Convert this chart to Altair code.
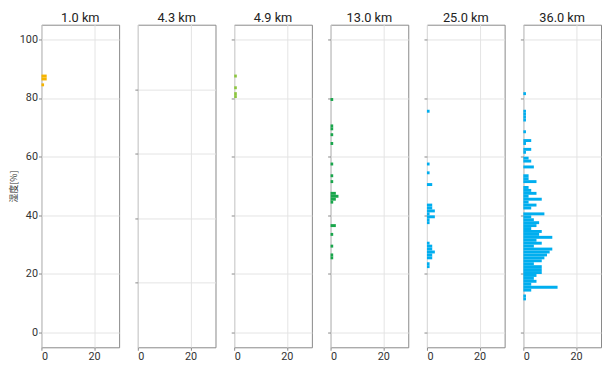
import altair as alt
import pandas as pd

dists = ["1.0 km", "4.3 km", "4.9 km", "13.0 km", "25.0 km", "36.0 km"]
colors = ["#F5B400", "#8CC63E", "#8CC63E", "#19A64B", "#00AEEF", "#00AEEF"]

# humidity bin (lower edge, %) and count, per distance
h_1 = [87, 86, 84]
c_1 = [2, 2, 1]
h_2 = []
c_2 = []
h_3 = [87, 83, 81, 80]
c_3 = [1, 1, 1, 1]
h_4 = [79, 70, 69, 67, 64, 57, 53, 51, 47, 46, 45, 44, 36, 33, 29, 26, 25]
c_4 = [1, 1, 1, 1, 1, 1, 1, 1, 2, 3, 2, 1, 2, 1, 1, 1, 1]
h_5 = [75, 57, 54, 50, 43, 42, 41, 40, 39, 38, 37, 30, 29, 28, 27, 26, 25, 23, 22]
c_5 = [1, 1, 1, 2, 2, 2, 3, 1, 3, 1, 1, 1, 2, 2, 3, 2, 2, 1, 1]
h_6 = [81, 75, 74, 73, 72, 68, 65, 64, 62, 61, 59, 58, 56, 53, 52, 51, 49, 48, 47,
       46, 45, 44, 43, 42, 40, 39, 38, 37, 36, 35, 34, 33, 32, 31, 30, 29, 28, 27,
       26, 25, 24, 23, 22, 21, 20, 19, 18, 17, 16, 15, 14, 12, 11]
c_6 = [1, 1, 1, 1, 1, 1, 3, 1, 3, 1, 2, 3, 4, 2, 2, 5, 2, 3, 5,
       2, 7, 2, 5, 3, 8, 3, 4, 6, 5, 3, 7, 6, 11, 5, 7, 4, 11, 10,
       9, 8, 7, 4, 7, 7, 7, 5, 4, 5, 3, 13, 3, 1, 1]

series = [h_1, h_2, h_3, h_4, h_5, h_6]
counts = [c_1, c_2, c_3, c_4, c_5, c_6]

rows = []
for d, hs, cs in zip(dists, series, counts):
    for h, c in zip(hs, cs):
        rows.append({"dist": d, "h": h, "h2": h + 1, "count": c})
df = pd.DataFrame(rows)

panels = []
for i, (d, col) in enumerate(zip(dists, colors)):
    first = i == 0
    if d == "4.3 km":
        ydom = [0, 1]
        yvals = [0.2, 0.4, 0.6, 0.8]
    else:
        ydom = [-5, 105]
        yvals = [0, 20, 40, 60, 80, 100]
    yaxis = alt.Axis(values=yvals, labels=first, title="湿度[%]" if first else "",
                     titleFont="Noto Sans CJK JP", titleFontSize=9, titleFontWeight="normal",
                     titleColor="#333", titlePadding=1, labelPadding=1, tickSize=3)
    ch = alt.Chart(df).transform_filter(alt.datum.dist == d).mark_bar(color=col).encode(
        x=alt.X("count:Q", scale=alt.Scale(domain=[0, 29.5], nice=False, zero=False),
                axis=alt.Axis(values=[0, 20], title="", tickSize=3, labelPadding=0)),
        x2=alt.datum(0),
        y=alt.Y("h:Q", scale=alt.Scale(domain=ydom, nice=False, zero=False), axis=yaxis),
        y2="h2:Q",
    ).properties(width=79, height=328,
                 title=alt.TitleParams(d, fontSize=13, font="Roboto", fontWeight="normal",
                                       color="#222", offset=0))
    panels.append(ch)

chart = alt.hconcat(*panels, spacing=14).properties(
    padding={"left": 0, "top": 0, "right": 0, "bottom": 0}
).configure_view(stroke="#888", strokeWidth=1).configure_axis(
    gridColor="#e3e3e3", domain=False, tickColor="#888", labelColor="#333",
    labelFont="Roboto", labelFontSize=11
)

chart.save("out.html", embed_options={"renderer": "svg", "actions": False})
